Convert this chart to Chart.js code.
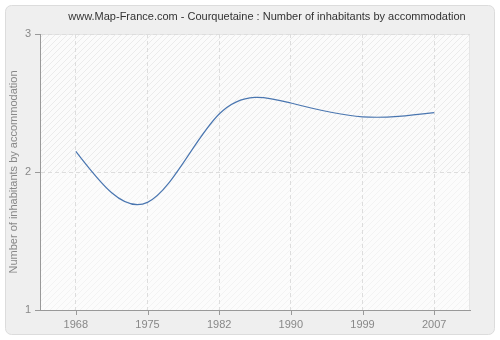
<!DOCTYPE html>
<html>
<head>
<meta charset="utf-8">
<script src="https://cdn.jsdelivr.net/npm/chart.js@4/dist/chart.umd.min.js"></script>
<style>
  html, body { margin: 0; padding: 0; background: #ffffff; }
  #wrap { width: 500px; height: 340px; position: relative; }
</style>
</head>
<body>
<div id="wrap"><canvas id="c" width="500" height="340"></canvas></div>
<script>
// Census years and average number of inhabitants per dwelling
const years = ['1968', '1975', '1982', '1990', '1999', '2007'];
const inhabitants = [2.15, 1.78, 2.42, 2.50, 2.40, 2.43];
const yTicks = [1, 2, 3];
const titleText = 'www.Map-France.com - Courquetaine : Number of inhabitants by accommodation';
const yTitle = 'Number of inhabitants by accommodation';

const FONT = '"Liberation Sans", Arial, sans-serif';

function hatch(bg, fg) {
  const p = document.createElement('canvas');
  p.width = 6; p.height = 6;
  const g = p.getContext('2d');
  g.fillStyle = bg; g.fillRect(0, 0, 6, 6);
  g.strokeStyle = fg; g.lineWidth = 1;
  g.beginPath();
  g.moveTo(0, 6); g.lineTo(6, 0);
  g.moveTo(-1, 1); g.lineTo(1, -1);
  g.moveTo(5, 7); g.lineTo(7, 5);
  g.stroke();
  return p;
}

// Natural cubic spline tangents for the line, expressed as bezier control points
const naturalSpline = {
  id: 'naturalSpline',
  beforeDatasetDraw(chart, args) {
    const meta = args.meta;
    meta.dataset.updateControlPoints(chart.chartArea, meta.iAxis);
    const pts = meta.data;
    const n = pts.length;
    if (n < 3) return;
    const h = [];
    for (let i = 0; i < n - 1; i++) h.push(pts[i + 1].x - pts[i].x);
    // tridiagonal system for the second derivatives, natural end conditions
    const a = new Array(n).fill(0), b = new Array(n).fill(1), c = new Array(n).fill(0), d = new Array(n).fill(0);
    for (let i = 1; i < n - 1; i++) {
      a[i] = h[i - 1];
      b[i] = 2 * (h[i - 1] + h[i]);
      c[i] = h[i];
      d[i] = 6 * ((pts[i + 1].y - pts[i].y) / h[i] - (pts[i].y - pts[i - 1].y) / h[i - 1]);
    }
    for (let i = 1; i < n; i++) {
      const m = a[i] / b[i - 1];
      b[i] -= m * c[i - 1];
      d[i] -= m * d[i - 1];
    }
    const M = new Array(n).fill(0);
    M[n - 1] = d[n - 1] / b[n - 1];
    for (let i = n - 2; i >= 0; i--) M[i] = (d[i] - c[i] * M[i + 1]) / b[i];
    // slope at each knot
    const s = [];
    for (let i = 0; i < n; i++) {
      if (i < n - 1) {
        s.push((pts[i + 1].y - pts[i].y) / h[i] - h[i] * (2 * M[i] + M[i + 1]) / 6);
      } else {
        s.push((pts[i].y - pts[i - 1].y) / h[i - 1] + h[i - 1] * (M[i - 1] + 2 * M[i]) / 6);
      }
    }
    for (let i = 0; i < n; i++) {
      const p = pts[i];
      const hp = i > 0 ? h[i - 1] : 0;
      const hn = i < n - 1 ? h[i] : 0;
      p.cp1x = p.x - hp / 3; p.cp1y = p.y - s[i] * hp / 3;
      p.cp2x = p.x + hn / 3; p.cp2y = p.y + s[i] * hn / 3;
    }
  }
};

// Panel, plot background and title
const backdrop = {
  id: 'backdrop',
  beforeDraw(chart) {
    const ctx = chart.ctx;
    const a = chart.chartArea;
    ctx.save();
    ctx.fillStyle = '#ffffff';
    ctx.fillRect(0, 0, chart.width, chart.height);
    const x = 5.5, y = 5.5, w = 489, h = 329, r = 6;
    ctx.beginPath();
    ctx.moveTo(x + r, y);
    ctx.arcTo(x + w, y, x + w, y + h, r);
    ctx.arcTo(x + w, y + h, x, y + h, r);
    ctx.arcTo(x, y + h, x, y, r);
    ctx.arcTo(x, y, x + w, y, r);
    ctx.closePath();
    ctx.fillStyle = '#efefef';
    ctx.fill();
    ctx.strokeStyle = '#dcdcdc';
    ctx.lineWidth = 1;
    ctx.stroke();

    // plot area: hatched, lighter below the middle tick
    const yMid = chart.scales.y.getPixelForValue(2);
    ctx.fillStyle = ctx.createPattern(hatch('#fbfbfb', '#ebebeb'), 'repeat');
    ctx.fillRect(a.left, a.top, a.right - a.left, yMid - a.top);
    ctx.fillStyle = ctx.createPattern(hatch('#fcfcfc', '#f3f3f3'), 'repeat');
    ctx.fillRect(a.left, yMid, a.right - a.left, a.bottom - yMid);
    ctx.strokeStyle = '#e6e6e6';
    ctx.beginPath();
    ctx.moveTo(a.left, a.top + 0.5); ctx.lineTo(a.right - 0.5, a.top + 0.5);
    ctx.lineTo(a.right - 0.5, a.bottom);
    ctx.stroke();

    ctx.fillStyle = '#333333';
    ctx.font = '11px ' + FONT;
    ctx.textAlign = 'center';
    ctx.textBaseline = 'middle';
    ctx.fillText(titleText, 267, 17);
    ctx.restore();
  },
  afterDraw(chart) {
    // small tick marks outside the axes
    const ctx = chart.ctx;
    const a = chart.chartArea;
    const xs = chart.scales.x, ys = chart.scales.y;
    ctx.save();
    ctx.strokeStyle = '#999999';
    ctx.lineWidth = 1;
    ctx.beginPath();
    xs.ticks.forEach((t, i) => {
      const px = Math.round(xs.getPixelForTick(i)) + 0.5;
      ctx.moveTo(px, a.bottom); ctx.lineTo(px, a.bottom + 5);
    });
    ys.ticks.forEach((t, i) => {
      const py = Math.round(ys.getPixelForTick(i)) + 0.5;
      ctx.moveTo(a.left - 5, py); ctx.lineTo(a.left, py);
    });
    ctx.stroke();
    ctx.restore();
  }
};

new Chart(document.getElementById('c'), {
  type: 'line',
  data: {
    labels: years,
    datasets: [{
      data: inhabitants,
      borderColor: '#4a76b0',
      borderWidth: 1.2,
      pointRadius: 0,
      tension: 0.4,
      fill: false
    }]
  },
  options: {
    responsive: false,
    animation: false,
    layout: { padding: { top: 34, right: 30, left: 0, bottom: 0 } },
    plugins: { legend: { display: false }, tooltip: { enabled: false } },
    scales: {
      x: {
        offset: true,
        grid: { color: '#dddddd', drawTicks: false, offset: false },
        border: { color: '#999999', width: 1, dash: [4, 3] },
        ticks: { color: '#888888', font: { family: FONT, size: 11 }, padding: 8, maxRotation: 0 },
        afterFit(s) { s.height = 30; }
      },
      y: {
        min: 1, max: 3,
        afterBuildTicks(s) { s.ticks = yTicks.map(v => ({ value: v })); },
        grid: { color: '#dddddd', drawTicks: false },
        border: { color: '#999999', width: 1, dash: [4, 3] },
        ticks: { color: '#888888', font: { family: FONT, size: 11 }, padding: 9 },
        title: { display: true, text: yTitle, color: '#888888', font: { family: FONT, size: 11 }, padding: { top: 7, bottom: 0 } },
        afterFit(s) { s.width = 40; }
      }
    }
  },
  plugins: [naturalSpline, backdrop]
});
</script>
</body>
</html>
